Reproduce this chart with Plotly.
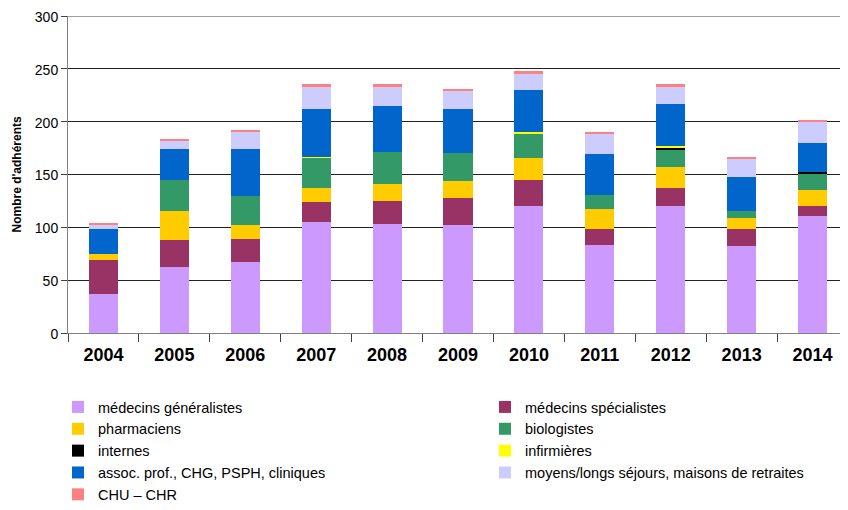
import plotly.graph_objects as go

years = ["2004", "2005", "2006", "2007", "2008", "2009", "2010", "2011", "2012", "2013", "2014"]

generalistes = [37, 62, 67, 105, 103, 102, 120, 83, 120, 82, 111]
specialistes = [32, 26, 22, 19, 22, 26, 25, 15, 17, 16, 9]
pharmaciens = [6, 27, 13, 13, 16, 16, 21, 19, 20, 11, 15]
biologistes = [0, 30, 28, 29, 30, 26, 22, 14, 16, 6, 16]
internes = [0, 0, 0, 0, 0, 0, 0, 0, 3, 0, 1]
infirmieres = [0, 0, 0, 1, 0, 0, 2, 0, 1, 0, 0]
assoc = [23, 29, 44, 45, 44, 42, 40, 38, 40, 33, 28]
moyens = [5, 8, 16, 21, 18, 17, 15, 19, 16, 17, 20]
chu = [1, 2, 2, 3, 3, 2, 3, 2, 3, 1, 2]

# (name, values, colour, legend column)
series = [
    ("médecins généralistes", generalistes, "#CC99FF", "legend"),
    ("médecins spécialistes", specialistes, "#993366", "legend2"),
    ("pharmaciens", pharmaciens, "#FFCC00", "legend"),
    ("biologistes", biologistes, "#339966", "legend2"),
    ("internes", internes, "#000000", "legend"),
    ("infirmières", infirmieres, "#FFFF00", "legend2"),
    ("assoc. prof., CHG, PSPH, cliniques", assoc, "#0066CC", "legend"),
    ("moyens/longs séjours, maisons de retraites", moyens, "#CCCCFF", "legend2"),
    ("CHU – CHR", chu, "#FF8080", "legend"),
]

fig = go.Figure()
for name, vals, col, leg in series:
    fig.add_trace(go.Bar(x=years, y=vals, name=name, legend=leg,
                         marker=dict(color=col, line=dict(width=0))))

FONT = "Arial, Liberation Sans, sans-serif"
W, H = 840, 502  # page has an 8px body margin
leg_common = dict(orientation="v", xref="container", yref="container",
                  yanchor="top", xanchor="left", traceorder="normal",
                  font=dict(size=14.5, family=FONT, color="#000"),
                  bgcolor="rgba(0,0,0,0)")

fig.update_layout(
    barmode="stack",
    bargap=0.59,
    width=W, height=H,
    margin=dict(l=60, r=0, t=8, b=177, autoexpand=False),
    plot_bgcolor="white", paper_bgcolor="white",
    font=dict(family=FONT, color="#000", size=14),
    showlegend=True,
    legend=dict(x=50 / W, y=1 - 383 / H, **leg_common),
    legend2=dict(x=477 / W, y=1 - 383 / H, **leg_common),
    xaxis=dict(type="category", showline=True, linecolor="#808080", linewidth=1,
               ticks="outside", tickson="boundaries", ticklen=8, tickcolor="#404040",
               tickfont=dict(size=18, family=FONT), ticklabelstandoff=5,
               showgrid=False),
    yaxis=dict(range=[0, 300], dtick=50, showline=True, linecolor="#808080", linewidth=1,
               ticks="outside", ticklen=6, tickcolor="#404040",
               gridcolor="#222", gridwidth=1, zeroline=False,
               ticklabeloverflow="allow", ticklabelshift=1,
               tickfont=dict(size=14)),
    shapes=[dict(type="line", xref="paper", yref="y", x0=0, x1=1, y0=300, y1=300,
                 line=dict(color="#444", width=1))],
    annotations=[dict(text="<b>Nombre d'adhérents</b>", textangle=-90,
                      xref="paper", yref="paper", x=-52 / 780, y=0.5,
                      xanchor="center", yanchor="middle", showarrow=False,
                      font=dict(size=12, family=FONT))],
)
fig.update_xaxes(tickprefix="<b>", ticksuffix="</b>")

fig.write_html("out.html")
